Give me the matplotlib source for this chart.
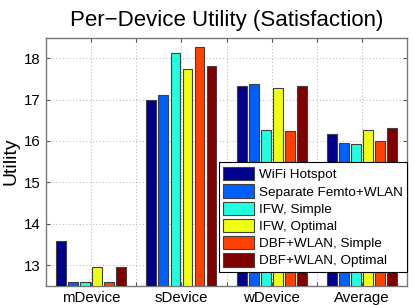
import matplotlib
matplotlib.use("Agg")
import matplotlib.pyplot as plt
import numpy as np

plt.rcParams["font.family"] = ["Liberation Sans", "DejaVu Sans"]

# ── data ────────────────────────────────────────────────────────────
categories = ["mDevice", "sDevice", "wDevice", "Average"]
series = ["WiFi Hotspot", "Separate Femto+WLAN", "IFW, Simple",
          "IFW, Optimal", "DBF+WLAN, Simple", "DBF+WLAN, Optimal"]
wifi_hotspot = [13.58, 16.98, 17.34, 16.17]
separate_femto = [12.60, 17.10, 17.37, 15.96]
ifw_simple = [12.60, 18.13, 16.26, 15.93]
ifw_optimal = [12.96, 17.75, 17.27, 16.27]
dbf_simple = [12.60, 18.28, 16.24, 15.99]
dbf_optimal = [12.96, 17.82, 17.32, 16.31]
values = [wifi_hotspot, separate_femto, ifw_simple, ifw_optimal, dbf_simple, dbf_optimal]

colours = ["#00008f", "#0060ff", "#20ffdf", "#efff10", "#ff4000", "#800000"]

# ── figure ──────────────────────────────────────────────────────────
fig = plt.figure(figsize=(4.15, 3.05), dpi=100)
ax = fig.add_axes([0.111, 0.063, 0.870, 0.814])

x = np.arange(1, len(categories) + 1)
step = 0.8 / len(series)
width = step * 0.82
base = 12.5
for i, (name, vals) in enumerate(zip(series, values)):
    offs = x - 0.4 + step * (i + 0.5)
    ax.bar(offs, np.array(vals) - base, bottom=base, width=width,
           color=colours[i], edgecolor="#404040", linewidth=0.8,
           label=name, zorder=3)

ax.set_xlim(0.5, 4.5)
ax.set_ylim(12.5, 18.5)
ax.set_yticks([13, 14, 15, 16, 17, 18])
xt = np.arange(1, 4.01, 0.5)
ax.set_xticks(xt)
ax.set_xticklabels([categories[int(v) - 1] if v == int(v) else "" for v in xt])
ax.tick_params(direction="in", length=3, labelsize=10.8, top=True, right=True,
               color="#555555", pad=4)
ax.grid(True, ls=(0, (1, 3)), color="#999999", lw=0.6, zorder=0)
for s in ax.spines.values():
    s.set_color("#777777")
    s.set_linewidth(1.0)

ax.set_ylabel("Utility", fontsize=14, labelpad=3)
ax.set_title("Per\u2212Device Utility (Satisfaction)", fontsize=16, pad=8)

leg = ax.legend(loc="lower right", bbox_to_anchor=(1.0, 0.055), borderaxespad=0,
                fontsize=9.7, handlelength=2.3, handleheight=1.15, handletextpad=0.3,
                labelspacing=0.22, borderpad=0.35, fancybox=False, framealpha=1)
leg.get_frame().set_edgecolor("black")
leg.get_frame().set_linewidth(0.8)
leg.set_zorder(5)

fig.savefig("out.png", dpi=100)
